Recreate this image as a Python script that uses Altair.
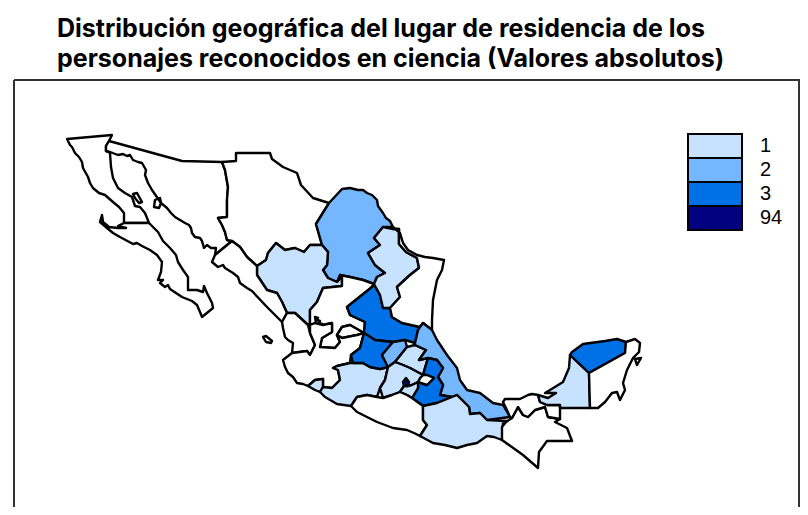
import altair as alt

TITLE = ["Distribución geográfica del lugar de residencia de los",
         "personajes reconocidos en ciencia (Valores absolutos)"]
CLASSES = [1, 2, 3, 94]
ALL_CLASSES = [0, 1, 2, 3, 94]
COLOURS = ["#FFFFFF", "#C6E2FF", "#75B7FF", "#0070E6", "#000080"]

# State outlines, in map-grid units
baja_california = [(67,139),(70,145),(72,147),(75,153),(79,157),(82,162),(83,168),(88,177),(90,183),(93,188),(99,193),(105,195),(113,202),(119,207),(124,213),(124,223),(149,223),(145,213),(140,207),(135,206),(132,197),(125,193),(118,188),(113,178),(111,167),(110,153),(106,151),(106,146),(109,141),(112,135)]
baja_california_sur = [(124,223),(118,226),(126,228),(118,228),(109,227),(103,222),(102,215),(100,222),(107,228),(113,233),(120,237),(133,244),(137,243),(142,246),(150,250),(157,255),(162,262),(161,272),(158,280),(163,280),(160,283),(165,287),(168,285),(170,289),(182,297),(192,301),(197,305),(200,312),(202,317),(213,308),(212,303),(207,293),(204,286),(203,292),(197,290),(188,290),(188,277),(183,270),(178,262),(176,255),(170,248),(167,245),(163,241),(158,232),(149,223)]
sonora = [(109,141),(182,161),(222,162),(225,170),(228,187),(227,200),(227,217),(218,218),(222,225),(225,232),(227,240),(232,241),(215,255),(216,248),(211,248),(207,245),(204,248),(202,241),(200,238),(195,237),(192,233),(191,228),(189,225),(185,223),(180,220),(175,217),(171,213),(167,208),(161,203),(160,198),(155,200),(154,207),(159,208),(161,203),(152,190),(148,183),(145,175),(146,170),(142,163),(138,162),(133,160),(130,155),(127,156),(123,154),(118,155),(110,152),(106,151),(106,146)]
isla_tiburon = [(133,194),(137,193),(142,202),(139,203),(135,198)]
chihuahua = [(222,162),(236,161),(236,153),(270,153),(272,159),(283,167),(297,173),(301,185),(313,198),(329,203),(316,224),(322,245),(310,245),(304,252),(295,248),(285,250),(276,243),(268,253),(266,260),(257,266),(247,257),(240,247),(232,241),(227,240),(225,232),(222,225),(218,218),(227,217),(227,200),(228,187),(225,170)]
coahuila = [(329,203),(342,189),(350,188),(358,190),(363,190),(367,193),(372,195),(377,200),(378,206),(383,213),(386,218),(390,221),(393,227),(383,227),(374,238),(380,245),(368,253),(375,265),(385,273),(377,277),(374,284),(363,280),(350,277),(340,275),(337,282),(328,278),(323,270),(327,265),(328,252),(322,245),(316,224)]
durango = [(257,266),(257,275),(267,290),(277,293),(282,302),(287,313),(295,313),(308,325),(310,323),(310,310),(317,302),(323,288),(342,286),(342,277),(337,282),(328,278),(323,270),(327,265),(328,252),(322,245),(310,245),(304,252),(295,248),(285,250),(276,243),(268,253),(266,260)]
sinaloa = [(232,241),(240,247),(247,257),(257,266),(257,275),(267,290),(277,293),(282,302),(287,313),(282,322),(267,307),(252,291),(247,288),(240,283),(238,277),(233,273),(225,268),(223,265),(218,267),(212,262),(215,255)]
nayarit = [(282,322),(287,313),(295,313),(308,325),(310,333),(315,345),(310,355),(307,351),(292,353),(293,343),(288,340),(285,337),(283,328)]
islas_marias = [(263,337),(266,336),(272,341),(271,343),(266,342)]
zacatecas = [(310,325),(310,323),(310,310),(317,302),(323,288),(342,286),(342,277),(340,275),(350,277),(363,280),(374,284),(372,287),(347,307),(350,315),(365,322),(364,333),(350,325),(342,327),(337,335),(340,342),(335,348),(320,347),(322,338),(332,332),(332,323),(323,325),(315,323)]
sierra_fria = [(315,317),(318,318),(317,320),(320,321),(319,323),(322,324),(321,327),(323,329),(320,330),(318,326),(316,323)]
aguascalientes = [(337,335),(342,327),(350,325),(364,333),(357,335),(342,338)]
jalisco = [(292,353),(283,360),(285,367),(288,373),(293,377),(297,383),(303,384),(308,386),(315,380),(323,379),(323,387),(332,388),(340,380),(338,370),(333,368),(337,366),(350,363),(351,355),(360,348),(364,333),(357,335),(342,338),(337,335),(340,342),(335,348),(320,347),(322,338),(332,332),(332,323),(323,325),(315,323),(310,325),(310,333),(315,345),(310,355),(307,351)]
san_luis_potosi = [(372,287),(374,284),(380,295),(383,308),(390,308),(392,317),(402,323),(411,325),(420,327),(418,330),(415,343),(405,340),(393,342),(375,340),(364,333),(365,322),(350,315),(347,307)]
nuevo_leon = [(383,227),(393,229),(399,229),(399,244),(406,252),(417,258),(419,268),(410,275),(397,287),(400,297),(390,308),(383,308),(380,295),(374,284),(377,277),(385,273),(375,265),(368,253),(380,245),(374,238)]
tamaulipas = [(393,227),(400,233),(403,243),(408,250),(417,255),(425,257),(433,258),(444,260),(442,270),(437,280),(433,300),(432,320),(432,330),(423,323),(420,327),(402,323),(392,317),(390,308),(400,297),(397,287),(410,275),(419,268),(417,258),(406,252),(399,244),(399,229),(393,229)]
colima = [(308,386),(315,380),(323,379),(323,387),(320,392),(315,390)]
michoacan = [(333,368),(337,366),(350,363),(363,363),(370,367),(380,369),(388,367),(385,380),(380,388),(377,397),(367,395),(357,397),(351,406),(337,404),(325,397),(320,392),(323,387),(332,388),(340,380),(338,370)]
guanajuato = [(364,333),(375,340),(393,342),(382,355),(388,367),(380,369),(370,367),(363,363),(353,363),(351,355),(360,348)]
queretaro = [(393,342),(405,340),(407,347),(395,362),(388,367),(382,355)]
hidalgo = [(407,347),(415,345),(426,350),(419,360),(428,358),(425,368),(423,375),(410,368),(403,365),(395,362)]
veracruz = [(420,327),(423,323),(432,330),(437,340),(447,355),(457,368),(460,380),(467,390),(480,393),(493,403),(503,405),(510,417),(487,420),(480,413),(470,414),(469,407),(457,395),(452,397),(440,395),(443,385),(438,377),(443,368),(437,360),(428,358),(419,360),(426,350),(415,345),(415,343),(418,330)]
puebla = [(428,358),(437,360),(443,368),(438,377),(443,385),(440,395),(452,397),(437,403),(423,406),(412,398),(418,388),(418,382),(427,385),(434,378),(427,375),(423,375),(425,368)]
tlaxcala = [(420,378),(423,375),(427,375),(434,378),(427,385),(418,382)]
estado_de_mexico = [(388,367),(395,362),(403,365),(410,368),(423,375),(420,378),(418,382),(412,385),(408,386),(404,386),(400,392),(392,395),(383,398),(380,388),(385,380)]
morelos = [(400,392),(404,386),(408,386),(412,385),(418,382),(418,388),(412,398),(407,395)]
ciudad_de_mexico = [(403,382),(406,378),(409,382),(408,386),(404,386)]
guerrero = [(351,406),(357,397),(367,395),(377,397),(383,398),(392,395),(400,392),(407,395),(412,398),(423,406),(423,420),(427,425),(420,436),(414,433),(407,430),(393,428),(377,422),(367,417),(357,412)]
oaxaca = [(423,406),(437,403),(452,397),(457,395),(469,407),(470,414),(480,413),(487,420),(507,421),(503,423),(502,440),(494,437),(487,436),(477,443),(467,445),(457,448),(445,445),(433,443),(420,436),(427,425),(423,420)]
chiapas = [(502,440),(502,427),(506,422),(512,418),(518,407),(523,415),(528,417),(535,410),(545,407),(548,417),(560,419),(555,422),(567,428),(572,441),(547,441),(539,452),(538,468),(523,455)]
tabasco = [(503,402),(505,399),(520,399),(528,395),(532,394),(538,395),(540,402),(547,405),(560,405),(560,419),(548,417),(545,407),(535,410),(528,417),(523,415),(518,407),(512,418),(510,417),(506,408)]
campeche = [(570,355),(589,373),(590,408),(560,408),(560,405),(547,405),(540,402),(538,395),(548,398),(556,393),(545,393),(550,390),(563,382),(569,368)]
yucatan = [(570,355),(572,352),(583,344),(605,341),(617,339),(626,342),(625,353),(589,373)]
quintana_roo = [(626,342),(635,339),(640,343),(639,352),(633,358),(627,370),(623,383),(625,390),(620,400),(617,392),(612,393),(605,402),(598,408),(590,408),(589,373),(625,353)]
cozumel = [(635,359),(641,358),(637,365)]

STATES = [
    ("Baja California", 0, [baja_california]), ("Baja California Sur", 0, [baja_california_sur]),
    ("Sonora", 0, [sonora, isla_tiburon]), ("Chihuahua", 0, [chihuahua]),
    ("Coahuila", 2, [coahuila]), ("Durango", 1, [durango]), ("Sinaloa", 0, [sinaloa]),
    ("Nayarit", 0, [nayarit, islas_marias]), ("Zacatecas", 0, [zacatecas, sierra_fria]),
    ("Aguascalientes", 0, [aguascalientes]), ("Jalisco", 0, [jalisco]),
    ("San Luis Potosí", 3, [san_luis_potosi]), ("Nuevo León", 1, [nuevo_leon]),
    ("Tamaulipas", 0, [tamaulipas]), ("Colima", 1, [colima]), ("Michoacán", 1, [michoacan]),
    ("Guanajuato", 3, [guanajuato]), ("Querétaro", 2, [queretaro]), ("Hidalgo", 1, [hidalgo]),
    ("Veracruz", 2, [veracruz]), ("Puebla", 3, [puebla]), ("Tlaxcala", 0, [tlaxcala]),
    ("México", 1, [estado_de_mexico]), ("Morelos", 1, [morelos]),
    ("Ciudad de México", 94, [ciudad_de_mexico]), ("Guerrero", 0, [guerrero]),
    ("Oaxaca", 1, [oaxaca]), ("Chiapas", 0, [chiapas]), ("Tabasco", 0, [tabasco]),
    ("Campeche", 1, [campeche]), ("Yucatán", 3, [yucatan]), ("Quintana Roo", 0, [quintana_roo, cozumel]),
]

features = [{
    "type": "Feature",
    "properties": {"name": n, "cls": v},
    "geometry": {"type": "MultiPolygon",
                 "coordinates": [[[list(p) for p in part + part[:1]]] for part in parts]},
} for n, v, parts in STATES]

W, H = 786, 427
colour = alt.Scale(domain=ALL_CLASSES, range=COLOURS)

shapes = alt.Chart(
    alt.InlineData(values={"type": "FeatureCollection", "features": features},
                   format=alt.DataFormat(property="features", type="json"))
).mark_geoshape(stroke="black", strokeWidth=2.4, strokeJoin="round").encode(
    color=alt.Color("properties.cls:O", scale=colour, legend=None)
).project(type="identity", scale=1, translate=[-14, -80])

legend_data = alt.Data(values=[{"cls": c} for c in CLASSES])
band = alt.Y("cls:O", scale=alt.Scale(domain=CLASSES, range=[54, 150], paddingInner=0, paddingOuter=0), axis=None)
legend_boxes = alt.Chart(legend_data).mark_rect(stroke="black", strokeWidth=2).encode(
    y=band, x=alt.value(674), x2=alt.value(728),
    color=alt.Color("cls:O", scale=colour, legend=None))
legend_text = alt.Chart(legend_data).mark_text(
    align="left", baseline="middle", font="Liberation Sans", fontSize=20, color="black"
).encode(y=band, x=alt.value(746), text="cls:O")

one = alt.Data(values=[{"a": 0}])
frame_style = dict(color="#333333", strokeWidth=2)
top = alt.Chart(one).mark_rule(**frame_style).encode(x=alt.value(0), x2=alt.value(W), y=alt.value(0))
left = alt.Chart(one).mark_rule(**frame_style).encode(x=alt.value(0), y=alt.value(0), y2=alt.value(H))
right = alt.Chart(one).mark_rule(**frame_style).encode(x=alt.value(W - 1), y=alt.value(0), y2=alt.value(H))

chart = alt.layer(shapes, legend_boxes, legend_text, top, left, right).resolve_scale(color="shared").properties(
    width=W, height=H,
    padding={"left": 6, "top": 72, "right": 0, "bottom": 0},
    autosize=alt.AutoSizeParams(type="none"),
    title=alt.Title(text=TITLE, anchor="start", font="Inter", fontWeight="bold",
                    fontSize=25, color="black", dx=44, offset=7, lineHeight=30),
).configure_view(stroke=None)

chart.save("out.html", embed_options={"renderer": "svg", "actions": False})
